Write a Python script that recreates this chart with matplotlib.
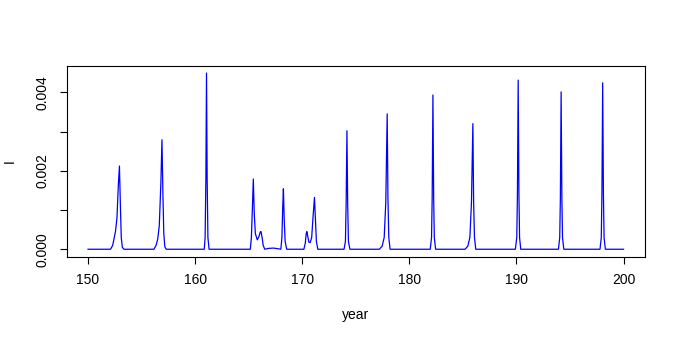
import matplotlib
matplotlib.use("Agg")
import matplotlib.pyplot as plt

plt.rcParams['font.family'] = ['Liberation Sans', 'DejaVu Sans']

# curve points, one peak per line
year = [150, 152.1, 152.3, 152.56, 152.7, 152.82, 152.93, 153.02, 153.1, 153.2, 153.35,
        156.15, 156.35, 156.5, 156.65, 156.8, 156.9, 156.99, 157.07, 157.17, 157.3,
        160.85, 160.93, 161.0, 161.06, 161.12, 161.19, 161.3,
        165.15, 165.25, 165.35, 165.43, 165.52, 165.62, 165.8, 165.95, 166.08, 166.15, 166.25, 166.35, 166.5,
        166.8, 167.3, 167.8,
        168.0, 168.1, 168.18, 168.24, 168.31, 168.4, 168.55,
        170.15, 170.28, 170.37, 170.43, 170.52, 170.62, 170.74, 170.88, 171.0, 171.14, 171.24, 171.32, 171.45,
        173.9, 174.03, 174.1, 174.17, 174.24, 174.31, 174.45,
        177.2, 177.46, 177.65, 177.8, 177.93, 178.0, 178.08, 178.2,
        181.95, 182.07, 182.13, 182.2, 182.27, 182.33, 182.45,
        185.2, 185.46, 185.65, 185.8, 185.93, 186.0, 186.08, 186.2,
        189.9, 190.03, 190.09, 190.16, 190.23, 190.29, 190.4,
        193.92, 194.04, 194.1, 194.17, 194.24, 194.3, 194.42,
        197.8, 197.92, 197.98, 198.05, 198.12, 198.18, 198.3,
        200]
I = [0, 0, 0.0001, 0.00045, 0.0008, 0.0016, 0.00212, 0.0011, 0.0003, 0.00005, 0,
     0, 0.0001, 0.00025, 0.0006, 0.0017, 0.00279, 0.0014, 0.0004, 0.00006, 0,
     0, 0.0003, 0.0018, 0.00449, 0.0018, 0.0003, 0,
     0, 0.0003, 0.0011, 0.00179, 0.0009, 0.0004, 0.00024, 0.00032, 0.00044, 0.00045, 0.0003, 0.0001, 0,
     0.00002, 0.00003, 0.00001,
     0, 0.0003, 0.0011, 0.00154, 0.0008, 0.0002, 0,
     0, 0.00015, 0.0004, 0.00045, 0.00032, 0.00018, 0.00017, 0.0003, 0.0008, 0.00132, 0.0007, 0.0002, 0,
     0, 0.0002, 0.0012, 0.00302, 0.0012, 0.0002, 0,
     0, 0.00008, 0.0003, 0.0012, 0.00345, 0.0013, 0.0003, 0,
     0, 0.0003, 0.0013, 0.00393, 0.0013, 0.0003, 0,
     0, 0.00008, 0.0003, 0.0012, 0.0032, 0.0012, 0.0003, 0,
     0, 0.0003, 0.0014, 0.00431, 0.0014, 0.0003, 0,
     0, 0.0003, 0.0013, 0.00401, 0.0013, 0.0003, 0,
     0, 0.0003, 0.0014, 0.00424, 0.0014, 0.0003, 0,
     0]

xticks = [150, 160, 170, 180, 190, 200]
yticks = [0, 0.001, 0.002, 0.003, 0.004]
ylabels = ["0.000", "", "0.002", "", "0.004"]

fig = plt.figure(figsize=(6.8, 3.4), dpi=100)
ax = fig.add_axes([0.098, 0.245, 0.8505, 0.561])
ax.plot(year, I, color='blue', lw=0.9)

ax.set_xlim(148, 202)
ax.set_ylim(-0.00019, 0.00467)
ax.set_xticks(xticks)
ax.set_yticks(yticks)
ax.set_yticklabels(ylabels, rotation=90, va='center')
ax.tick_params(direction='out', length=5, width=0.8, labelsize=10, pad=7)
for s in ax.spines.values():
    s.set_linewidth(0.8)

ax.set_xlabel("year", fontsize=10, labelpad=15)
ax.set_ylabel("I", fontsize=10, labelpad=14)

fig.savefig("out.png", dpi=100)
